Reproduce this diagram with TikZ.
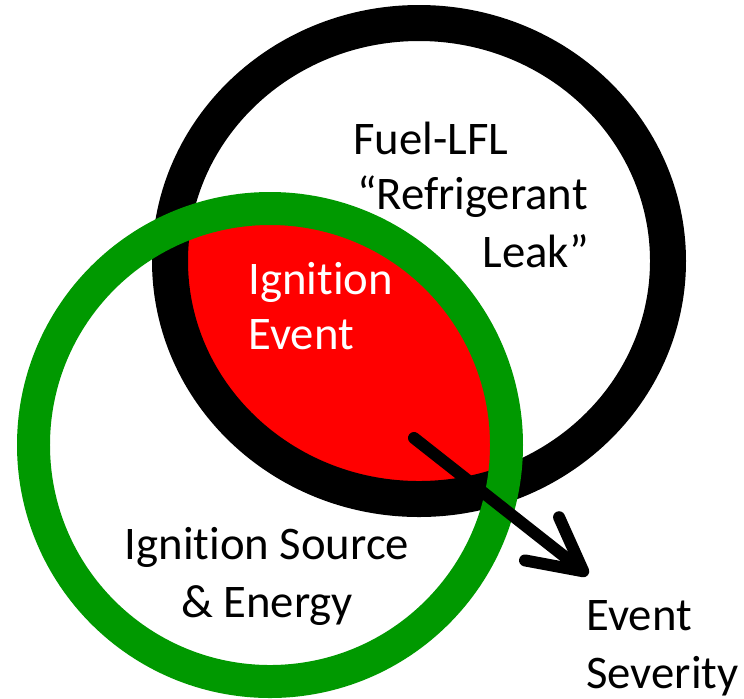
\documentclass[tikz,border=0pt]{standalone}
\usepackage{fontspec}
\setmainfont{Carlito}[RawFeature={-liga;-clig;-dlig;-calt}]
\usetikzlibrary{positioning,arrows.meta}
\definecolor{eventred}{HTML}{FF0000}
\definecolor{sourcegreen}{HTML}{009900}

\begin{document}
\begin{tikzpicture}[x=0.02cm, y=-0.02cm,
  fuelring/.style={draw=black, line width=0.72cm},
  sourcering/.style={draw=sourcegreen, line width=0.66cm},
  lbl/.style={font=\fontsize{26.6}{32.4}\selectfont, inner sep=0pt, text=black},
  arr/.style={-{Straight Barb[length=1.05cm,width=1.1cm,round]}, line width=0.24cm, line cap=round}
]
\useasboundingbox (0,0) rectangle (744,698);
\begin{scope}
  \clip (419,261) ellipse [x radius=249, y radius=238];
  \fill[eventred] (270,445) circle [radius=236.5];
\end{scope}
\draw[fuelring] (419,261) ellipse [x radius=249, y radius=238];
\draw[sourcering] (270,445) circle [radius=236.5];
\node[lbl,anchor=base west] (fuel) at (353,154) {Fuel-LFL};
\node[lbl,anchor=base east] (refr) at (588,209) {“Refrigerant};
\node[lbl,anchor=base east] (leak) at (589,267) {Leak”};
\node[lbl,text=white,anchor=base west] (ign) at (248,294) {Igni\kern0pt tion};
\node[lbl,text=white,anchor=base west] (ignev) at (248,349) {Event};
\node[lbl,anchor=base] (src) at (267,559) {Igni\kern0pt tion Source};
\node[lbl,anchor=base] (energy) at (267,617) {\& Energy};
\node[lbl,anchor=base west] (sev) at (586,630) {Event};
\node[lbl,anchor=base west] (severity) at (586,688) {Severity};
\coordinate (arrstart) at (414,438);
\coordinate (arrtip) at (588,575);
\draw[arr] (arrstart) -- (arrtip);
\end{tikzpicture}
\end{document}
